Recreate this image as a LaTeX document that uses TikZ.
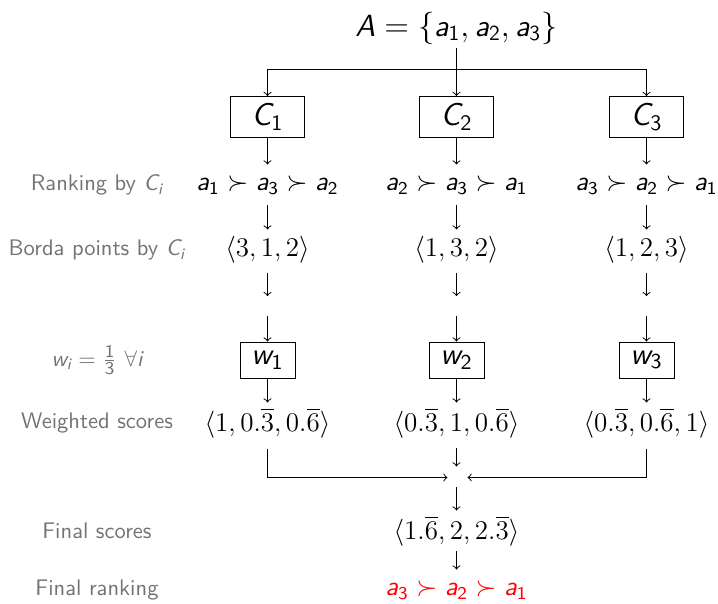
\documentclass[tikz,border=0pt]{standalone}
\usepackage{fontspec}
\usepackage{amsmath}
\newcommand\sv[1]{\text{\sffamily\itshape #1}}
\newcommand\sn[1]{\text{\sffamily #1}}
\newcommand\ai[1]{\sv{a}_{\sn{#1}}}
\begin{document}
\begin{tikzpicture}[x=0.444pt,y=-0.444pt,>=to,
  lab/.style={text=black!55,font=\sffamily,inner sep=0pt},
  row/.style={font=\large,inner sep=0pt,minimum height=17.8pt},
  cbox/.style={draw,font=\fontsize{14}{16}\selectfont,minimum width=32.9pt,minimum height=18.2pt,inner sep=0pt},
  wbox/.style={draw,font=\fontsize{13.5}{16}\selectfont,minimum width=24.4pt,minimum height=16pt,inner sep=0pt},
  conn/.style={->,line width=0.42pt}]
\useasboundingbox (0,0) rectangle (718,604);
% top
\node[font=\fontsize{13.6}{16}\selectfont,inner sep=0pt,minimum height=17.8pt] (A) at (456.5,28) {$\sv{A} = \{\ai1, \ai2, \ai3\}$};
\coordinate (J0) at (456.5,69);
% C boxes
\node[cbox] (C1) at (267.5,117) {$\sv{C}_{\sn{1}}$};
\node[cbox] (C2) at (456.5,117) {$\sv{C}_{\sn{2}}$};
\node[cbox] (C3) at (646.5,117) {$\sv{C}_{\sn{3}}$};
% rankings
\node[lab] (LR) at (97,185) {Ranking by $\sv{C}_{\sv{i}}$};
\node[row] (R1) at (267.5,185) {$\ai1 \succ \ai3 \succ \ai2$};
\node[row] (R2) at (456.5,185) {$\ai2 \succ \ai3 \succ \ai1$};
\node[row] (R3) at (646.5,185) {$\ai3 \succ \ai2 \succ \ai1$};
% borda
\node[lab] (LB) at (97,250) {Borda points by $\sv{C}_{\sv{i}}$};
\node[row] (B1) at (267.5,250) {$\langle 3,1,2\rangle$};
\node[row] (B2) at (456.5,250) {$\langle 1,3,2\rangle$};
\node[row] (B3) at (646.5,250) {$\langle 1,2,3\rangle$};
% blank cells
\coordinate (E1) at (267.5,306);
\coordinate (E2) at (456.5,306);
\coordinate (E3) at (646.5,306);
% weights
\node[lab] (LW) at (97,360) {$\sv{w}_{\sv{i}} = \frac{\mbox{\sffamily\footnotesize 1}}{\mbox{\sffamily\footnotesize 3}}\ \forall \sv{i}$};
\node[wbox] (W1) at (267.5,360) {$\sv{w}_{\sn{1}}$};
\node[wbox] (W2) at (456.5,360) {$\sv{w}_{\sn{2}}$};
\node[wbox] (W3) at (646.5,360) {$\sv{w}_{\sn{3}}$};
% weighted scores
\node[lab] (LS) at (97,423) {Weighted scores};
\node[row] (S1) at (267.5,423) {$\langle 1,0.\overline{3},0.\overline{6}\rangle$};
\node[row] (S2) at (456.5,423) {$\langle 0.\overline{3},1,0.\overline{6}\rangle$};
\node[row] (S3) at (646.5,423) {$\langle 0.\overline{3},0.\overline{6},1\rangle$};
% junction
\coordinate (J) at (456.5,477.5);
% final
\node[lab] (LF) at (97,531) {Final scores};
\node[row] (F) at (456.5,531) {$\langle 1.\overline{6},2,2.\overline{3}\rangle$};
\node[lab] (LK) at (97,590) {Final ranking};
\node[row,text=red] (K) at (456.5,590) {$\ai3 \succ \ai2 \succ \ai1$};
% connectors
\draw[conn] (A) -- (C2);
\draw[conn] (J0) -| (C1);
\draw[conn] (J0) -| (C3);
\foreach \i in {1,2,3}{
  \draw[conn] (C\i) -- (R\i);
  \draw[conn] (R\i) -- (B\i);
  \draw[conn,shorten <=1.3pt,shorten >=4.4pt] (B\i) -- (E\i);
  \draw[conn,shorten <=4.4pt] (E\i) -- (W\i);
  \draw[conn] (W\i) -- (S\i);
}
\draw[conn,shorten <=2.2pt,shorten >=4.9pt] (S2) -- (J);
\draw[conn,shorten <=2.6pt,shorten >=4pt] (S1) |- (J);
\draw[conn,shorten <=2.6pt,shorten >=4.9pt] (S3) |- (J);
\draw[conn,shorten <=4.4pt] (J) -- (F);
\draw[conn] (F) -- (K);
\end{tikzpicture}
\end{document}
